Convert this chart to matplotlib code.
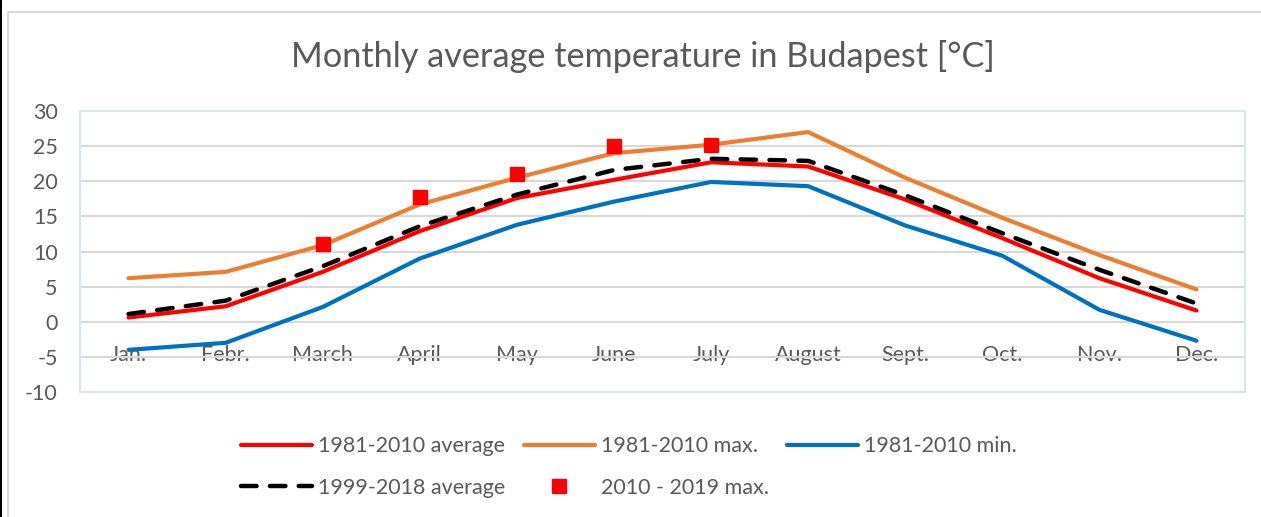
import matplotlib
matplotlib.use("Agg")
import matplotlib.pyplot as plt
from matplotlib.patches import Rectangle

# ---------------- DATA ----------------
months = ["Jan.", "Febr.", "March", "April", "May", "June",
          "July", "August", "Sept.", "Oct.", "Nov.", "Dec."]
avg_1981_2010 = [0.6, 2.2, 7.1, 12.9, 17.6, 20.2, 22.7, 22.1, 17.4, 11.9, 6.2, 1.6]
max_1981_2010 = [6.2, 7.1, 10.9, 16.7, 20.5, 24.0, 25.2, 27.0, 20.5, 14.8, 9.5, 4.6]
min_1981_2010 = [-4.0, -3.0, 2.1, 9.0, 13.8, 17.1, 19.9, 19.3, 13.7, 9.4, 1.7, -2.7]
avg_1999_2018 = [1.1, 3.0, 7.9, 13.6, 18.1, 21.6, 23.2, 22.9, 18.0, 12.6, 7.4, 2.6]
max_2010_2019_months = ["March", "April", "May", "June", "July"]
max_2010_2019 = [11.1, 17.7, 21.0, 25.0, 25.2]

TEXT = "#595959"
plt.rcParams["font.family"] = ["Lato", "DejaVu Sans"]
plt.rcParams["axes.unicode_minus"] = False

W, H = 1261, 517

# ---------------- FIGURE ----------------
fig = plt.figure(figsize=(W / 100, H / 100), dpi=100)
ax = fig.add_axes([80 / W, 1 - 392 / H, (1245 - 80) / W, (392 - 111) / H])

x = list(range(len(months)))
x_sq = [months.index(m) for m in max_2010_2019_months]

l_avg, = ax.plot(x, avg_1981_2010, color="#FF0000", lw=3, solid_capstyle="round",
                 label="1981-2010 average", zorder=3)
l_max, = ax.plot(x, max_1981_2010, color="#ED7D31", lw=3, solid_capstyle="round",
                 label="1981-2010 max.", zorder=3)
l_min, = ax.plot(x, min_1981_2010, color="#0070C0", lw=3, solid_capstyle="round",
                 label="1981-2010 min.", zorder=3)
l_new, = ax.plot(x, avg_1999_2018, color="black", lw=3.2, dashes=(3.5, 3),
                 dash_capstyle="round", label="1999-2018 average", zorder=4)
l_sq, = ax.plot(x_sq, max_2010_2019, ls="none", marker="s", ms=10,
                color="#FF0000", label="2010 - 2019 max.", zorder=5)

ax.set_xlim(-0.5, len(months) - 0.5)
ax.set_ylim(-10, 30)
ax.set_yticks(range(-10, 31, 5))
ax.grid(axis="y", color="#d9d9d9", lw=1.5)
ax.set_axisbelow(True)

for s in ax.spines.values():
    s.set_visible(False)
# category labels sit just below the zero line, as in Excel
ax.spines["bottom"].set_position(("data", 0))
ax.set_xticks(x)
ax.set_xticklabels(months)
ax.tick_params(axis="x", length=0, pad=17, labelsize=15.5, labelcolor=TEXT)
ax.tick_params(axis="y", length=0, pad=16, labelsize=15.5, labelcolor=TEXT)
ax.add_patch(Rectangle((0, 0), 1, 1, transform=ax.transAxes, fill=False,
                       edgecolor="#dce6f2", lw=1.5, clip_on=False, zorder=1))

fig.text(0.51, 0.89, "Monthly average temperature in Budapest [°C]",
         ha="center", va="center", fontsize=24.7, color=TEXT)

# order so the legend fills row by row like the original
handles = [l_avg, l_new, l_max, l_sq, l_min]
fig.legend(handles=handles, labels=[h.get_label() for h in handles],
           loc="center", bbox_to_anchor=(0.499, 0.097), ncol=3, frameon=False,
           fontsize=15.5, labelcolor=TEXT, handlelength=3.3, handletextpad=0.28,
           columnspacing=0.85, labelspacing=1.0)

# chart frame (light gray) and the dark strip at the left edge
fig.patches.append(Rectangle((8 / W, -0.1), 1.2, 1.1 - 12 / H, transform=fig.transFigure,
                             fill=False, edgecolor="#d9d9d9", lw=1.5))
fig.patches.append(Rectangle((0, 0), 2 / W, 1, transform=fig.transFigure,
                             facecolor="black", edgecolor="none"))

plt.savefig("out.png", dpi=100)
plt.close()
